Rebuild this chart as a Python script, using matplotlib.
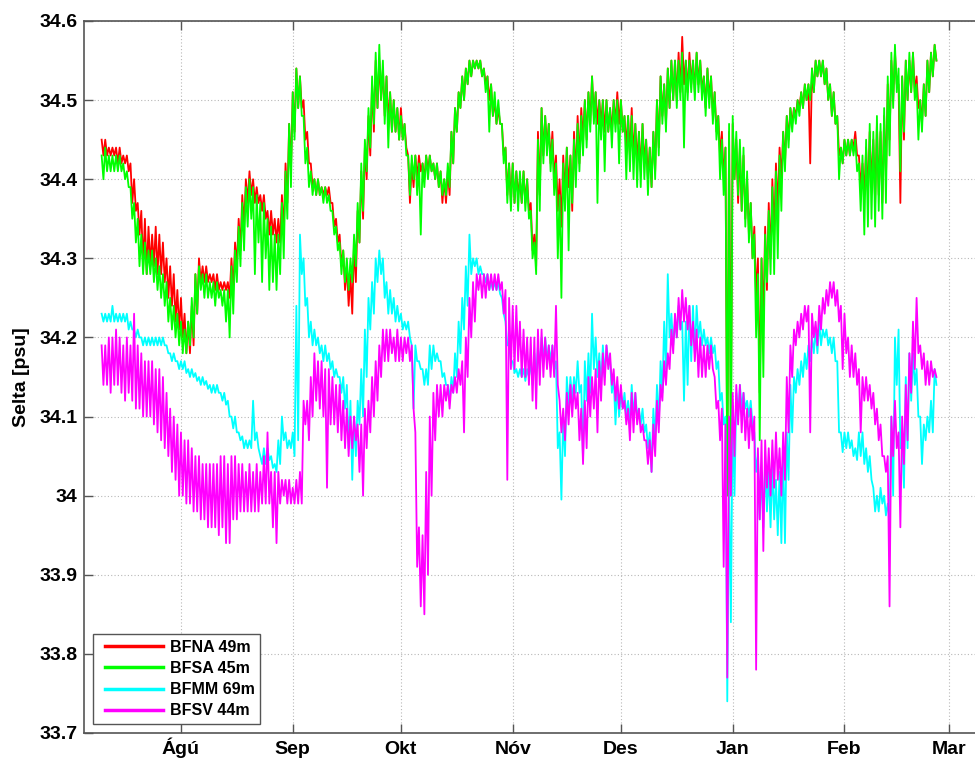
import numpy as np
import matplotlib
matplotlib.use("Agg")
import matplotlib.pyplot as plt
import matplotlib.dates as mdates
from matplotlib.ticker import FixedLocator, FuncFormatter
from matplotlib.lines import Line2D
from matplotlib.legend_handler import HandlerLine2D

plt.rcParams['font.family'] = ['Liberation Sans', 'DejaVu Sans']
plt.rcParams['font.weight'] = 'bold'

# Daily (high, low) salinity readings, first day 10 Jul 2011
start_date = np.datetime64('2011-07-10')

bfna = [  # BFNA 49m
    (34.45,34.43),(34.45,34.43),(34.44,34.43),(34.44,34.43),(34.44,34.42),(34.44,34.42),(34.43,34.42),(34.43,34.41),(34.42,34.37),(34.40,34.36),
    (34.37,34.33),(34.36,34.29),(34.35,34.28),(34.34,34.29),(34.33,34.29),(34.34,34.28),(34.33,34.28),(34.32,34.27),(34.30,34.25),(34.29,34.24),
    (34.28,34.22),(34.26,34.21),(34.25,34.20),(34.23,34.18),(34.22,34.18),(34.24,34.19),(34.28,34.23),(34.30,34.27),(34.29,34.27),(34.29,34.27),
    (34.28,34.27),(34.28,34.26),(34.28,34.26),(34.27,34.26),(34.27,34.26),(34.27,34.25),(34.30,34.26),(34.32,34.29),(34.35,34.31),(34.38,34.34),
    (34.40,34.37),(34.41,34.38),(34.40,34.37),(34.39,34.37),(34.38,34.36),(34.38,34.35),(34.36,34.33),(34.36,34.33),(34.35,34.32),(34.35,34.32),
    (34.38,34.33),(34.42,34.37),(34.47,34.41),(34.51,34.46),(34.54,34.49),(34.53,34.49),(34.50,34.45),(34.46,34.42),(34.42,34.39),(34.40,34.38),
    (34.40,34.38),(34.39,34.38),(34.39,34.38),(34.39,34.37),(34.37,34.34),(34.35,34.32),(34.33,34.29),(34.31,34.26),(34.29,34.24),(34.28,34.23),
    (34.32,34.27),(34.36,34.32),(34.41,34.35),(34.44,34.40),(34.48,34.43),(34.52,34.46),(34.55,34.49),(34.55,34.50),(34.54,34.48),(34.53,34.47),
    (34.51,34.46),(34.50,34.46),(34.49,34.45),(34.49,34.45),(34.47,34.44),(34.43,34.37),(34.42,34.39),(34.43,34.40),(34.43,34.41),(34.42,34.40),
    (34.43,34.41),(34.43,34.41),(34.42,34.40),(34.42,34.39),(34.41,34.37),(34.40,34.37),(34.41,34.38),(34.46,34.42),(34.49,34.46),(34.51,34.49),
    (34.53,34.50),(34.54,34.52),(34.55,34.53),(34.55,34.54),(34.55,34.54),(34.55,34.53),(34.54,34.52),(34.53,34.50),(34.52,34.48),(34.50,34.47),
    (34.49,34.47),(34.47,34.43),(34.44,34.38),(34.42,34.37),(34.42,34.37),(34.41,34.38),(34.40,34.37),(34.41,34.37),(34.40,34.36),(34.37,34.31),
    (34.33,34.29),(34.46,34.38),(34.49,34.43),(34.48,34.44),(34.47,34.42),(34.46,34.40),(34.43,34.36),(34.40,34.34),(34.43,34.38),(34.44,34.39),
    (34.43,34.36),(34.46,34.40),(34.48,34.42),(34.49,34.45),(34.50,34.45),(34.51,34.47),(34.53,34.48),(34.51,34.47),(34.50,34.47),(34.50,34.46),
    (34.50,34.46),(34.49,34.46),(34.50,34.47),(34.51,34.47),(34.50,34.46),(34.48,34.44),(34.48,34.43),(34.49,34.43),(34.47,34.42),(34.46,34.41),
    (34.47,34.42),(34.45,34.40),(34.44,34.39),(34.46,34.41),(34.50,34.44),(34.53,34.48),(34.52,34.47),(34.54,34.49),(34.55,34.50),(34.55,34.50),
    (34.56,34.51),(34.58,34.52),(34.55,34.51),(34.56,34.52),(34.55,34.51),(34.56,34.52),(34.55,34.51),(34.53,34.49),(34.54,34.50),(34.53,34.48),
    (34.51,34.46),(34.48,34.43),(34.46,34.40),(34.44,34.02),(34.46,34.10),(34.47,34.40),(34.45,34.37),(34.44,34.36),(34.43,34.35),(34.40,34.33),
    (34.37,34.30),(34.34,34.25),(34.30,34.13),(34.30,34.22),(34.34,34.26),(34.37,34.30),(34.40,34.33),(34.42,34.36),(34.44,34.40),(34.46,34.42),
    (34.48,34.45),(34.49,34.47),(34.49,34.48),(34.50,34.49),(34.51,34.49),(34.52,34.50),(34.52,34.42),(34.54,34.51),(34.55,34.53),(34.55,34.53),
    (34.55,34.52),(34.54,34.50),(34.52,34.48),(34.51,34.47),(34.48,34.43),(34.44,34.42),(34.45,34.43),(34.45,34.43),(34.45,34.44),(34.46,34.43),
    (34.43,34.39),(34.42,34.38),(34.44,34.38),(34.46,34.39),(34.45,34.37),(34.47,34.38),(34.46,34.37),(34.48,34.40),(34.52,34.45),(34.55,34.50),
    (34.56,34.52),(34.52,34.37),(34.53,34.45),(34.55,34.50),(34.55,34.51),(34.56,34.51),(34.53,34.49),(34.50,34.47),(34.52,34.48),(34.55,34.51),
    (34.56,34.53),(34.57,34.55),
]

bfsa = [  # BFSA 45m
    (34.43,34.40),(34.44,34.41),(34.43,34.41),(34.43,34.41),(34.43,34.41),(34.43,34.41),(34.42,34.40),(34.41,34.39),(34.39,34.35),(34.37,34.32),
    (34.35,34.29),(34.33,34.28),(34.32,34.28),(34.31,34.28),(34.31,34.27),(34.30,34.26),(34.29,34.25),(34.28,34.24),(34.27,34.22),(34.25,34.21),
    (34.24,34.20),(34.23,34.19),(34.22,34.18),(34.21,34.18),(34.22,34.19),(34.25,34.20),(34.28,34.23),(34.29,34.26),(34.28,34.25),(34.28,34.25),
    (34.27,34.25),(34.27,34.24),(34.27,34.25),(34.26,34.24),(34.26,34.22),(34.26,34.20),(34.29,34.23),(34.31,34.27),(34.34,34.29),(34.37,34.31),
    (34.39,34.34),(34.40,34.35),(34.39,34.28),(34.38,34.32),(34.37,34.27),(34.37,34.30),(34.35,34.26),(34.34,34.27),(34.33,34.26),(34.33,34.28),
    (34.37,34.30),(34.41,34.35),(34.47,34.39),(34.51,34.45),(34.54,34.49),(34.53,34.48),(34.48,34.42),(34.44,34.39),(34.41,34.38),(34.40,34.38),
    (34.40,34.38),(34.39,34.37),(34.39,34.37),(34.38,34.36),(34.36,34.33),(34.34,34.31),(34.32,34.28),(34.31,34.27),(34.30,34.26),(34.30,34.27),
    (34.33,34.29),(34.37,34.32),(34.42,34.36),(34.45,34.41),(34.49,34.44),(34.53,34.47),(34.56,34.49),(34.57,34.50),(34.55,34.47),(34.53,34.44),
    (34.51,34.46),(34.50,34.46),(34.49,34.45),(34.48,34.45),(34.47,34.43),(34.43,34.38),(34.43,34.40),(34.43,34.38),(34.42,34.33),(34.42,34.39),
    (34.43,34.40),(34.43,34.41),(34.42,34.40),(34.42,34.39),(34.41,34.38),(34.40,34.38),(34.42,34.39),(34.46,34.42),(34.49,34.46),(34.51,34.49),
    (34.53,34.50),(34.54,34.52),(34.55,34.53),(34.55,34.54),(34.55,34.54),(34.55,34.53),(34.54,34.51),(34.53,34.46),(34.52,34.48),(34.51,34.47),
    (34.50,34.47),(34.47,34.42),(34.44,34.37),(34.42,34.36),(34.42,34.37),(34.41,34.36),(34.41,34.37),(34.41,34.36),(34.40,34.35),(34.36,34.30),
    (34.32,34.28),(34.45,34.36),(34.49,34.42),(34.48,34.43),(34.47,34.41),(34.45,34.38),(34.42,34.30),(34.38,34.25),(34.42,34.36),(34.44,34.31),
    (34.43,34.37),(34.45,34.39),(34.47,34.41),(34.48,34.43),(34.50,34.44),(34.51,34.46),(34.53,34.47),(34.51,34.37),(34.50,34.45),(34.50,34.41),
    (34.50,34.46),(34.49,34.44),(34.50,34.46),(34.50,34.42),(34.50,34.46),(34.48,34.40),(34.48,34.41),(34.48,34.40),(34.47,34.39),(34.46,34.39),
    (34.47,34.40),(34.45,34.38),(34.44,34.39),(34.46,34.40),(34.50,34.43),(34.53,34.47),(34.52,34.46),(34.54,34.49),(34.55,34.50),(34.55,34.49),
    (34.55,34.50),(34.56,34.44),(34.55,34.50),(34.55,34.51),(34.55,34.50),(34.56,34.51),(34.55,34.50),(34.53,34.48),(34.54,34.49),(34.53,34.47),
    (34.51,34.45),(34.48,34.40),(34.45,34.38),(34.44,34.00),(34.47,34.00),(34.48,34.40),(34.46,34.38),(34.45,34.36),(34.44,34.34),(34.41,34.32),
    (34.37,34.30),(34.33,34.20),(34.28,34.07),(34.30,34.15),(34.33,34.27),(34.36,34.28),(34.39,34.28),(34.41,34.30),(34.43,34.36),(34.46,34.41),
    (34.48,34.44),(34.49,34.46),(34.49,34.47),(34.50,34.48),(34.51,34.49),(34.52,34.50),(34.52,34.50),(34.54,34.51),(34.55,34.53),(34.55,34.53),
    (34.55,34.52),(34.54,34.50),(34.52,34.48),(34.51,34.47),(34.48,34.40),(34.44,34.42),(34.45,34.43),(34.45,34.43),(34.45,34.43),(34.45,34.41),
    (34.42,34.36),(34.43,34.33),(34.45,34.34),(34.47,34.35),(34.46,34.34),(34.48,34.36),(34.47,34.35),(34.49,34.37),(34.53,34.43),(34.56,34.49),
    (34.57,34.51),(34.54,34.41),(34.53,34.46),(34.55,34.50),(34.56,34.51),(34.56,34.50),(34.52,34.45),(34.50,34.46),(34.52,34.48),(34.55,34.51),
    (34.56,34.53),(34.57,34.55),
]

bfmm = [  # BFMM 69m
    (34.23,34.22),(34.23,34.22),(34.23,34.22),(34.24,34.22),(34.23,34.22),(34.23,34.22),(34.23,34.22),(34.23,34.21),(34.22,34.21),(34.21,34.20),
    (34.21,34.20),(34.20,34.19),(34.20,34.19),(34.20,34.19),(34.20,34.19),(34.20,34.19),(34.20,34.19),(34.20,34.19),(34.19,34.18),(34.18,34.17),
    (34.18,34.17),(34.17,34.16),(34.17,34.16),(34.17,34.155),(34.16,34.15),(34.16,34.15),(34.155,34.145),(34.15,34.14),(34.15,34.14),(34.145,34.135),
    (34.14,34.13),(34.14,34.13),(34.14,34.13),(34.13,34.12),(34.13,34.115),(34.12,34.10),(34.10,34.085),(34.10,34.08),(34.08,34.07),(34.075,34.06),
    (34.07,34.06),(34.07,34.06),(34.12,34.07),(34.08,34.06),(34.05,34.04),(34.06,34.04),(34.06,34.045),(34.05,34.035),(34.04,34.03),(34.07,34.04),
    (34.10,34.07),(34.08,34.06),(34.07,34.06),(34.08,34.05),(34.24,34.07),(34.33,34.28),(34.30,34.24),(34.25,34.20),(34.22,34.19),(34.21,34.19),
    (34.20,34.18),(34.19,34.17),(34.19,34.17),(34.18,34.16),(34.17,34.15),(34.16,34.15),(34.15,34.13),(34.15,34.11),(34.14,34.06),(34.12,34.02),
    (34.10,34.05),(34.12,34.09),(34.16,34.10),(34.21,34.15),(34.25,34.21),(34.27,34.23),(34.30,34.27),(34.31,34.28),(34.30,34.25),(34.27,34.23),
    (34.26,34.23),(34.25,34.22),(34.24,34.22),(34.23,34.21),(34.22,34.21),(34.22,34.20),(34.19,34.11),(34.19,34.17),(34.17,34.16),(34.16,34.14),
    (34.16,34.14),(34.19,34.16),(34.19,34.17),(34.18,34.17),(34.17,34.15),(34.155,34.14),(34.14,34.12),(34.15,34.13),(34.18,34.15),(34.22,34.18),
    (34.25,34.21),(34.29,34.24),(34.33,34.28),(34.30,34.29),(34.30,34.28),(34.29,34.28),(34.28,34.27),(34.28,34.26),(34.27,34.26),(34.27,34.26),
    (34.27,34.255),(34.25,34.23),(34.22,34.19),(34.19,34.17),(34.17,34.155),(34.16,34.15),(34.16,34.15),(34.16,34.145),(34.16,34.15),(34.17,34.14),
    (34.18,34.15),(34.19,34.16),(34.20,34.17),(34.20,34.17),(34.19,34.17),(34.19,34.16),(34.17,34.06),(34.08,33.995),(34.10,34.05),(34.15,34.11),
    (34.15,34.12),(34.15,34.13),(34.17,34.13),(34.14,34.045),(34.17,34.12),(34.18,34.13),(34.23,34.16),(34.20,34.15),(34.18,34.14),(34.19,34.15),
    (34.19,34.17),(34.17,34.13),(34.15,34.09),(34.14,34.10),(34.13,34.11),(34.13,34.10),(34.12,34.09),(34.14,34.10),(34.13,34.10),(34.11,34.09),
    (34.11,34.08),(34.09,34.06),(34.08,34.03),(34.11,34.07),(34.14,34.09),(34.17,34.13),(34.22,34.16),(34.28,34.20),(34.23,34.19),(34.22,34.20),
    (34.24,34.21),(34.22,34.12),(34.22,34.14),(34.24,34.17),(34.24,34.18),(34.24,34.20),(34.22,34.19),(34.21,34.19),(34.20,34.18),(34.20,34.18),
    (34.19,34.16),(34.17,34.12),(34.13,34.09),(34.10,33.74),(34.02,33.84),(34.11,34.00),(34.13,34.10),(34.14,34.11),(34.13,34.11),(34.12,34.10),
    (34.12,34.09),(34.08,34.03),(34.05,33.97),(34.03,33.96),(34.04,33.98),(34.03,33.96),(34.04,33.97),(34.02,33.95),(34.03,33.94),(34.05,33.94),
    (34.08,34.02),(34.14,34.08),(34.15,34.13),(34.16,34.14),(34.17,34.15),(34.18,34.16),(34.19,34.17),(34.20,34.18),(34.21,34.18),(34.22,34.19),
    (34.21,34.20),(34.21,34.19),(34.20,34.18),(34.20,34.17),(34.17,34.08),(34.08,34.055),(34.08,34.06),(34.08,34.06),(34.07,34.05),(34.06,34.045),
    (34.08,34.05),(34.08,34.04),(34.06,34.03),(34.05,34.02),(34.01,33.98),(34.00,33.98),(34.01,33.99),(34.00,33.975),(33.99,33.97),(34.10,34.00),
    (34.20,34.14),(34.21,34.06),(34.07,34.01),(34.15,34.06),(34.18,34.12),(34.18,34.14),(34.16,34.10),(34.10,34.04),(34.09,34.07),(34.10,34.08),
    (34.12,34.08),(34.16,34.14),
]

bfsv = [  # BFSV 44m
    (34.19,34.14),(34.19,34.14),(34.20,34.13),(34.20,34.14),(34.21,34.14),(34.20,34.13),(34.19,34.12),(34.20,34.13),(34.19,34.12),(34.23,34.11),
    (34.19,34.11),(34.18,34.10),(34.17,34.10),(34.17,34.10),(34.17,34.09),(34.16,34.08),(34.16,34.07),(34.15,34.06),(34.13,34.05),(34.11,34.03),
    (34.10,34.02),(34.09,34.00),(34.08,34.00),(34.07,33.99),(34.07,33.99),(34.06,33.98),(34.05,33.98),(34.05,33.97),(34.04,33.97),(34.04,33.96),
    (34.04,33.96),(34.04,33.96),(34.04,33.95),(34.05,33.96),(34.05,33.94),(34.04,33.94),(34.05,33.97),(34.05,33.97),(34.04,33.98),(34.04,33.98),
    (34.03,33.98),(34.04,33.98),(34.03,33.98),(34.04,33.98),(34.03,33.99),(34.05,33.99),(34.08,33.99),(34.03,33.96),(34.03,33.94),(34.03,33.99),
    (34.02,34.00),(34.02,33.99),(34.02,33.99),(34.01,33.99),(34.02,33.99),(34.03,33.99),(34.12,34.09),(34.12,34.07),(34.15,34.10),(34.18,34.12),
    (34.17,34.11),(34.17,34.10),(34.16,34.01),(34.16,34.09),(34.15,34.09),(34.14,34.08),(34.14,34.07),(34.12,34.06),(34.11,34.05),(34.10,34.06),
    (34.10,34.07),(34.09,34.03),(34.09,34.00),(34.11,34.06),(34.12,34.08),(34.15,34.10),(34.17,34.12),(34.19,34.15),(34.21,34.17),(34.21,34.17),
    (34.21,34.18),(34.20,34.17),(34.21,34.17),(34.20,34.17),(34.20,34.18),(34.20,34.17),(34.19,34.11),(34.08,33.91),(33.96,33.86),(33.95,33.85),
    (34.03,33.90),(34.10,34.00),(34.13,34.07),(34.14,34.10),(34.14,34.10),(34.14,34.12),(34.14,34.11),(34.14,34.13),(34.15,34.13),(34.16,34.14),
    (34.17,34.08),(34.20,34.15),(34.25,34.20),(34.27,34.22),(34.28,34.26),(34.28,34.25),(34.28,34.25),(34.28,34.26),(34.28,34.26),(34.28,34.26),
    (34.28,34.26),(34.27,34.23),(34.26,34.02),(34.25,34.16),(34.24,34.16),(34.24,34.17),(34.22,34.15),(34.21,34.15),(34.20,34.14),(34.20,34.12),
    (34.20,34.11),(34.21,34.14),(34.21,34.15),(34.20,34.16),(34.19,34.15),(34.19,34.15),(34.24,34.14),(34.12,34.08),(34.11,34.07),(34.13,34.09),
    (34.14,34.10),(34.14,34.11),(34.13,34.07),(34.11,34.04),(34.12,34.06),(34.15,34.10),(34.15,34.11),(34.16,34.08),(34.17,34.12),(34.18,34.14),
    (34.19,34.16),(34.18,34.14),(34.16,34.12),(34.15,34.11),(34.14,34.11),(34.12,34.09),(34.11,34.07),(34.13,34.08),(34.13,34.09),(34.11,34.08),
    (34.09,34.07),(34.07,34.04),(34.07,34.03),(34.09,34.05),(34.12,34.08),(34.14,34.12),(34.17,34.14),(34.18,34.16),(34.21,34.18),(34.23,34.20),
    (34.25,34.21),(34.26,34.22),(34.25,34.21),(34.24,34.19),(34.22,34.17),(34.21,34.15),(34.20,34.15),(34.19,34.15),(34.19,34.16),(34.19,34.16),
    (34.15,34.11),(34.12,34.07),(34.11,33.91),(34.09,33.77),(34.10,34.00),(34.13,34.05),(34.14,34.09),(34.14,34.08),(34.13,34.07),(34.11,34.06),
    (34.11,34.07),(34.10,33.78),(34.06,33.97),(34.07,33.93),(34.07,34.01),(34.06,34.00),(34.07,34.01),(34.08,34.02),(34.06,34.00),(34.08,34.02),
    (34.15,34.08),(34.19,34.15),(34.21,34.19),(34.22,34.20),(34.23,34.21),(34.24,34.22),(34.24,34.08),(34.23,34.20),(34.22,34.19),(34.24,34.21),
    (34.25,34.23),(34.26,34.24),(34.27,34.25),(34.27,34.24),(34.26,34.22),(34.24,34.16),(34.23,34.18),(34.20,34.15),(34.19,34.15),(34.18,34.14),
    (34.16,34.08),(34.15,34.12),(34.15,34.12),(34.14,34.11),(34.13,34.09),(34.11,34.07),(34.09,34.05),(34.05,34.03),(34.05,33.86),(34.10,34.05),
    (34.12,34.06),(34.08,33.96),(34.10,34.04),(34.14,34.07),(34.18,34.13),(34.22,34.16),(34.25,34.18),(34.19,34.16),(34.18,34.14),(34.17,34.14),
    (34.17,34.15),(34.16,34.15),
]

series_names = ['BFNA 49m', 'BFSA 45m', 'BFMM 69m', 'BFSV 44m']
series_data = [bfna, bfsa, bfmm, bfsv]
series_colors = ['#ff0000', '#00ff00', '#00ffff', '#ff00ff']

month_starts = ['2011-08-01', '2011-09-01', '2011-10-01', '2011-11-01',
                '2011-12-01', '2012-01-01', '2012-02-01', '2012-03-01']
month_labels = ['Ágú', 'Sep', 'Okt', 'Nóv', 'Des', 'Jan', 'Feb', 'Mar']
y_ticks = [33.7, 33.8, 33.9, 34.0, 34.1, 34.2, 34.3, 34.4, 34.5, 34.6]


def to_num(d):
    return mdates.date2num(np.datetime64(d, 'D').astype('datetime64[ms]').astype(object))


t0 = to_num(start_date)

fig = plt.figure(figsize=(9.75, 7.6), dpi=100)
# axes run past the right edge of the figure
ax = fig.add_axes([83.6 / 975, 27 / 760, 897.9 / 975, 712 / 760])

for name, data, col in zip(series_names, series_data, series_colors):
    arr = np.asarray(data, dtype=float)
    n = len(arr)
    days = np.arange(n, dtype=float)
    t = np.empty(2 * n)
    v = np.empty(2 * n)
    t[0::2] = t0 + days          # daily high
    t[1::2] = t0 + days + 0.5    # daily low
    v[0::2] = arr[:, 0]
    v[1::2] = arr[:, 1]
    ax.plot(t, v, color=col, lw=1.3, label=name)

ax.set_xlim(to_num('2011-07-05'), to_num('2012-03-10'))
ax.set_ylim(33.7, 34.6)

ax.xaxis.set_major_locator(FixedLocator([to_num(m) for m in month_starts]))
ax.set_xticklabels(month_labels)
ax.yaxis.set_major_locator(FixedLocator(y_ticks))
ax.yaxis.set_major_formatter(FuncFormatter(lambda val, pos: f'{val:g}'))

ax.grid(True, color='#b8b8b8', linestyle=(0, (1, 2)), linewidth=0.8)
ax.set_axisbelow(True)

for s in ax.spines.values():
    s.set_color('#555555')
    s.set_linewidth(1.2)

ax.tick_params(axis='both', which='major', direction='in', length=6.5,
               width=1.0, color='#555555', labelsize=14, top=True, right=False)
ax.tick_params(axis='x', pad=15)
ax.tick_params(axis='y', pad=4.5)
for tick in ax.xaxis.get_major_ticks():
    tick.label1.set_verticalalignment('baseline')
for lab in ax.get_xticklabels() + ax.get_yticklabels():
    lab.set_fontweight('bold')

ax.set_ylabel('Selta [psu]', fontsize=14, fontweight='bold', labelpad=7)

leg = ax.legend(loc='lower left', bbox_to_anchor=(0.0105, 0.0126), borderaxespad=0,
                fancybox=False, edgecolor='#555555', framealpha=1,
                prop={'family': ['Liberation Sans'], 'weight': 'bold', 'size': 11.5},
                handlelength=4.0, handletextpad=0.45, labelspacing=0.39,
                borderpad=0.35, handler_map={Line2D: HandlerLine2D(xpad=0.4)})
leg.get_frame().set_linewidth(1.0)
for h in leg.legend_handles:
    h.set_linewidth(2.5)

fig.savefig('out.png', dpi=100)
